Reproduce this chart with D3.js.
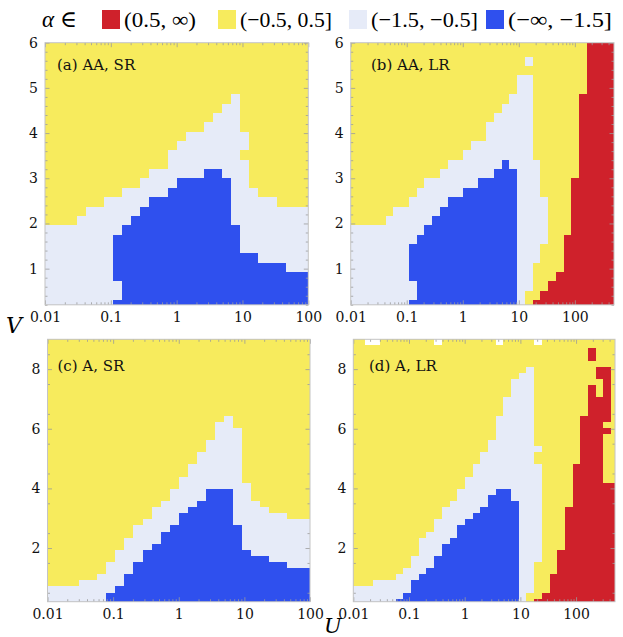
<!DOCTYPE html>
<html>
<head>
<meta charset="utf-8">
<script src="https://cdn.jsdelivr.net/npm/d3@7"></script>
<style>
body { margin: 0; background: #fff; }
text { font-family: "DejaVu Serif", "Liberation Serif", serif; }
.leg { font-family: "Liberation Serif", "DejaVu Serif", serif; }
</style>
</head>
<body>
<svg id="chart" width="623" height="637"></svg>
<script>
// sample points of the U grid (log spaced) and V grid
var uShort = [0.01, 0.01373, 0.01887, 0.02593, 0.03562, 0.04894, 0.06723, 0.09237, 0.1269, 0.1743,
  0.2395, 0.3290, 0.4520, 0.6210, 0.8532, 1.172, 1.610, 2.212, 3.039, 4.175,
  5.736, 7.880, 10.83, 14.87, 20.43, 28.07, 38.57, 52.99, 72.79, 100];
var uLong = [0.01, 0.01374, 0.01890, 0.02598, 0.03571, 0.04909, 0.06749, 0.09278, 0.1275, 0.1753,
  0.2410, 0.3313, 0.4555, 0.6262, 0.8608, 1.183, 1.627, 2.236, 3.074, 4.226,
  5.809, 7.986, 10.98, 15.09, 20.75, 28.52, 39.21, 53.89, 74.09, 101.8,
  140.0, 192.5, 264.6, 363.7, 500];
var vShort = [0.2, 0.407, 0.614, 0.821, 1.029, 1.236, 1.443, 1.650, 1.857, 2.064,
  2.271, 2.479, 2.686, 2.893, 3.100, 3.307, 3.514, 3.721, 3.929, 4.136,
  4.343, 4.550, 4.757, 4.964, 5.171, 5.379, 5.586, 5.793, 6.0];
var vTall = [0.2, 0.405, 0.609, 0.814, 1.019, 1.223, 1.428, 1.633, 1.837, 2.042,
  2.247, 2.451, 2.656, 2.860, 3.065, 3.270, 3.474, 3.679, 3.884, 4.088,
  4.293, 4.498, 4.702, 4.907, 5.112, 5.316, 5.521, 5.726, 5.930, 6.135,
  6.340, 6.544, 6.749, 6.953, 7.158, 7.363, 7.567, 7.772, 7.977, 8.181,
  8.386, 8.591, 8.795, 9.0];

// alpha class per cell, one string per U column, runs from bottom V upward
// R=(0.5,inf)  Y=(-0.5,0.5]  L=(-1.5,-0.5]  B=(-inf,-1.5]  W=no data
var colsAA_SR = ["L9Y", "L9Y", "L9Y", "L9Y", "L10Y", "L11Y", "L11Y", "L12Y", "B1L2B5L4Y", "B9L4Y",
  "B10L3Y", "B11L3Y", "B12L3Y", "B12L3Y", "B13L4Y", "B14L4Y", "B14L5Y", "B14L5Y", "B15L5Y", "B15L6Y",
  "B14L8Y", "B9L14Y", "B6L10Y1L2Y", "B6L7Y", "B5L7Y", "B5L7Y", "B5L6Y", "B4L7Y", "B4L7Y", "B4L7Y"];
var colsAA_LR = ["L9Y", "L9Y", "L9Y", "L9Y", "L9Y", "L10Y", "L11Y", "L11Y", "B1L2B4L5Y", "B8L5Y",
  "B9L5Y", "B10L4Y", "B11L4Y", "B12L4Y", "B12L4Y", "B13L4Y", "B13L5Y", "B14L4Y", "B14L6Y", "B15L6Y",
  "B16L6Y", "B15L8Y", "L25Y", "Y2L23Y1L1Y", "R1Y4L11Y", "R2Y5L5Y", "R3Y", "R4Y", "R8Y", "R14Y",
  "R23Y", "R", "R", "R", "R"];
var colsA_SR = ["L3Y", "L3Y", "L3Y", "L3Y", "L4Y", "L4Y", "L5Y", "B2L5Y", "B3L6Y", "B5L6Y",
  "B7L6Y", "B9L5Y", "B10L6Y", "B12L5Y", "B13L6Y", "B15L6Y", "B16L7Y", "B17L8Y", "B19L8Y", "B19L11Y",
  "B19L12Y", "B13L16Y", "B9L11Y", "B8L9Y", "B8L8Y", "B7L8Y", "B7L8Y", "B6L8Y", "B6L8Y", "B6L8Y"];
var colsA_LR = ["L3Y", "L3Y", "L3Y40W", "L4Y39W", "L4Y", "L4Y", "B1L4Y", "B2L4Y", "B4L4Y", "B5L6Y",
  "B6L6Y", "B8L6Y29W", "B10L6Y", "B11L6Y", "B13L6Y", "B14L7Y", "B15L8Y", "B16L9Y", "B18L9Y", "B19L12Y12W",
  "B19L15Y", "B17L20Y", "L38Y", "Y2L37Y", "R1Y6L16Y2L1Y17W", "R2Y", "R5Y", "R9Y", "R16Y", "R23Y",
  "R31Y", "R36Y4R2Y", "R34Y3R2Y", "R20Y8R1Y1R9Y", "R20Y"];

var legendLabels = ["(0.5, \u221E)", "(\u22120.5, 0.5]", "(\u22121.5, \u22120.5]", "(\u2212\u221E, \u22121.5]"];
var legendCodes = ["R", "Y", "L", "B"];
var xTickVals = [0.01, 0.1, 1, 10, 100];

var fills = { R: "#cf212b", Y: "#f7eb5d", L: "#e6ebf8", B: "#2f50ee", W: "#ffffff" };

var panels = [
  { label: "(a) AA, SR", cols: colsAA_SR, u: uShort, v: vShort, x0: 45, x1: 308.3, y0: 42.7, y1: 304.8, lx: 57, ly: 70, yt: [1, 2, 3, 4, 5, 6], ym: 0.2 },
  { label: "(b) AA, LR", cols: colsAA_LR, u: uLong, v: vShort, x0: 350.7, x1: 614, y0: 42.7, y1: 304.8, lx: 371, ly: 70, yt: [1, 2, 3, 4, 5, 6], ym: 0.2 },
  { label: "(c) A, SR", cols: colsA_SR, u: uShort, v: vTall, x0: 47.5, x1: 310, y0: 339.3, y1: 601.7, lx: 57.5, ly: 370.5, yt: [2, 4, 6, 8], ym: 0.5 },
  { label: "(d) A, LR", cols: colsA_LR, u: uLong, v: vTall, x0: 353.3, x1: 615, y0: 339.3, y1: 601.7, lx: 369, ly: 370.5, yt: [2, 4, 6, 8], ym: 0.5 }
];

var svg = d3.select("#chart");

function expand(s, n) {
  var out = [];
  var re = /([A-Z])(\d*)/g, m;
  while ((m = re.exec(s)) !== null) {
    var k = m[2] === "" ? n - out.length : +m[2];
    for (var i = 0; i < k; i++) out.push(m[1]);
  }
  return out.slice(0, n);
}

function edges(pts, logScale) {
  var e = [pts[0]];
  for (var i = 1; i < pts.length; i++) {
    e.push(logScale ? Math.sqrt(pts[i - 1] * pts[i]) : (pts[i - 1] + pts[i]) / 2);
  }
  e.push(pts[pts.length - 1]);
  return e;
}

function minorVals(lo, hi) {
  var out = [];
  for (var p = -3; p <= 3; p++) {
    for (var k = 2; k <= 9; k++) {
      var val = k * Math.pow(10, p);
      if (val > lo && val < hi) out.push(val);
    }
  }
  return out;
}

panels.forEach(function(p) {
  var g = svg.append("g");
  var nU = p.u.length, nV = p.v.length;
  var x = d3.scaleLog().domain([p.u[0], p.u[nU - 1]]).range([p.x0, p.x1]);
  var y = d3.scaleLinear().domain([p.v[0], p.v[nV - 1]]).range([p.y1, p.y0]);
  var xe = edges(p.u, true), ye = edges(p.v, false);

  var runs = [];
  p.cols.forEach(function(s, c) {
    var rows = expand(s, nV);
    var start = 0;
    for (var r = 1; r <= rows.length; r++) {
      if (r === rows.length || rows[r] !== rows[start]) {
        runs.push({ c: c, cat: rows[start], r0: start, r1: r - 1 });
        start = r;
      }
    }
  });

  g.selectAll("rect.cell")
    .data(runs.filter(function(d) { return d.cat !== "W"; }))
    .enter().append("rect")
    .attr("class", "cell")
    .attr("shape-rendering", "crispEdges")
    .attr("x", function(d) { return x(xe[d.c]); })
    .attr("width", function(d) { return x(xe[d.c + 1]) - x(xe[d.c]); })
    .attr("y", function(d) { return y(ye[d.r1 + 1]); })
    .attr("height", function(d) { return y(ye[d.r0]) - y(ye[d.r1 + 1]); })
    .style("fill", function(d) { return fills[d.cat]; });

  // missing points leave a hole one grid step deep
  g.selectAll("rect.hole")
    .data(runs.filter(function(d) { return d.cat === "W"; }))
    .enter().append("rect")
    .attr("class", "hole")
    .attr("shape-rendering", "crispEdges")
    .attr("x", function(d) { return x(xe[d.c]); })
    .attr("width", function(d) { return x(xe[d.c + 1]) - x(xe[d.c]); })
    .attr("y", function(d) { return y(ye[d.r1 + 1]); })
    .attr("height", function(d) { return y(p.v[d.r0 - 1]) - y(ye[d.r1 + 1]); })
    .style("fill", fills.W);

  var minU = minorVals(p.u[0], p.u[nU - 1]);
  var minV = d3.range(Math.ceil(p.v[0] / p.ym) * p.ym, p.v[nV - 1] + 1e-6, p.ym)
    .filter(function(v) { return Math.abs(v - Math.round(v)) > 1e-6; });

  function frameAxis(axis, tr, vals, size, labels) {
    var a = g.append("g").attr("transform", tr)
      .call(axis.tickValues(vals).tickSize(size).tickSizeOuter(0)
        .tickFormat(labels ? function(d) { return String(d); } : ""));
    a.select(".domain").remove();
    a.selectAll("line").attr("stroke", "#9a9a9a").attr("stroke-width", 0.8);
    return a;
  }

  var bx = frameAxis(d3.axisBottom(x), "translate(0," + p.y1 + ")", xTickVals, -4.5, true);
  bx.selectAll("text").attr("y", 7).style("font-size", "14px").style("fill", "#111");
  frameAxis(d3.axisBottom(x), "translate(0," + p.y1 + ")", minU, -2.5, false);
  frameAxis(d3.axisTop(x), "translate(0," + p.y0 + ")", xTickVals, -4.5, false);
  frameAxis(d3.axisTop(x), "translate(0," + p.y0 + ")", minU, -2.5, false);

  var ly = frameAxis(d3.axisLeft(y), "translate(" + p.x0 + ",0)", p.yt, -4.5, true);
  ly.selectAll("text").attr("x", -7).style("font-size", "14px").style("fill", "#111");
  frameAxis(d3.axisLeft(y), "translate(" + p.x0 + ",0)", minV, -2.5, false);
  frameAxis(d3.axisRight(y), "translate(" + p.x1 + ",0)", p.yt, -4.5, false);
  frameAxis(d3.axisRight(y), "translate(" + p.x1 + ",0)", minV, -2.5, false);

  g.append("rect")
    .attr("x", p.x0).attr("y", p.y0)
    .attr("width", p.x1 - p.x0).attr("height", p.y1 - p.y0)
    .style("fill", "none").style("stroke", "#c4c4c4").style("stroke-width", 1);

  g.append("text")
    .attr("x", p.lx).attr("y", p.ly)
    .style("font-size", "15px").style("fill", "#111")
    .text(p.label);
});

// axis titles
svg.append("text").attr("x", 6).attr("y", 333)
  .style("font-size", "22px").style("font-style", "italic").text("V");
svg.append("text").attr("x", 324).attr("y", 633)
  .style("font-size", "21px").style("font-style", "italic").text("U");

// legend
var legend = svg.append("g");
legend.append("text").attr("class", "leg").attr("x", 42).attr("y", 27)
  .style("font-size", "23px")
  .html('<tspan font-style="italic">\u03B1</tspan> \u2208');
var legX = [102, 218, 349, 486];
var legW = [72, 92, 107, 104];
legendCodes.forEach(function(c, i) {
  legend.append("rect")
    .attr("x", legX[i]).attr("y", 10)
    .attr("width", 18).attr("height", 19)
    .style("fill", fills[c]);
  legend.append("text")
    .attr("class", "leg")
    .attr("x", legX[i] + 22).attr("y", 27)
    .attr("textLength", legW[i]).attr("lengthAdjust", "spacingAndGlyphs")
    .style("font-size", "22px")
    .text(legendLabels[i]);
});
</script>
</body>
</html>
